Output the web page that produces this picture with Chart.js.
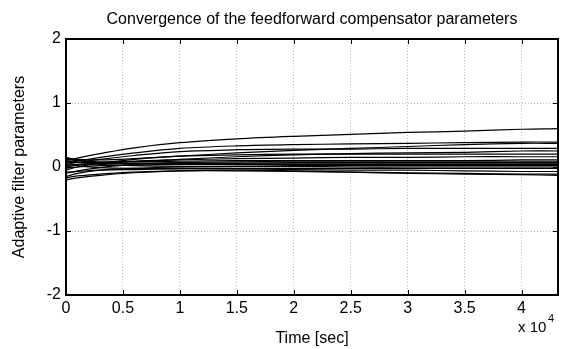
<!DOCTYPE html>
<html>
<head>
<meta charset="utf-8">
<script src="https://cdn.jsdelivr.net/npm/chart.js@4"></script>
<style>
  html, body { margin: 0; padding: 0; background: #fff; }
</style>
</head>
<body>
<canvas id="convChart" width="565" height="349"></canvas>
<script>
const times = [0, 1000, 3000, 6000, 10000, 15000, 20000, 25000, 30000, 35000, 40000, 43200];

// one array per adaptive filter parameter
const p1  = [0.10, 0.14, 0.21, 0.30, 0.38, 0.44, 0.48, 0.51, 0.54, 0.56, 0.59, 0.60];
const p2  = [0.06, 0.09, 0.15, 0.22, 0.29, 0.33, 0.35, 0.36, 0.37, 0.38, 0.39, 0.39];
const p3  = [0.14, 0.12, 0.11, 0.13, 0.17, 0.22, 0.26, 0.29, 0.32, 0.35, 0.37, 0.37];
const p4  = [0.04, 0.07, 0.12, 0.18, 0.24, 0.27, 0.28, 0.28, 0.29, 0.29, 0.29, 0.29];
const p5  = [0.12, 0.10, 0.08, 0.09, 0.12, 0.16, 0.19, 0.21, 0.22, 0.23, 0.25, 0.25];
const p6  = [-0.05, 0.00, 0.06, 0.12, 0.17, 0.19, 0.20, 0.20, 0.20, 0.20, 0.20, 0.20];
const p7  = [0.08, 0.07, 0.07, 0.09, 0.11, 0.13, 0.14, 0.15, 0.15, 0.16, 0.16, 0.16];
const p8  = [-0.10, -0.06, -0.01, 0.04, 0.07, 0.08, 0.09, 0.09, 0.09, 0.09, 0.09, 0.09];
const p9  = [0.15, 0.11, 0.07, 0.05, 0.05, 0.06, 0.07, 0.07, 0.07, 0.07, 0.07, 0.07];
const p10 = [0.02, 0.04, 0.05, 0.06, 0.06, 0.05, 0.05, 0.05, 0.05, 0.05, 0.05, 0.05];
const p11 = [-0.02, 0.00, 0.02, 0.03, 0.04, 0.04, 0.04, 0.04, 0.04, 0.04, 0.04, 0.04];
const p12 = [0.10, 0.07, 0.04, 0.02, 0.01, 0.01, 0.02, 0.02, 0.02, 0.02, 0.02, 0.02];
const p13 = [-0.15, -0.10, -0.05, -0.02, 0.00, 0.01, 0.01, 0.00, 0.00, 0.00, 0.00, 0.00];
const p14 = [0.05, 0.02, -0.01, -0.02, -0.02, -0.02, -0.02, -0.02, -0.02, -0.02, -0.02, -0.02];
const p15 = [-0.08, -0.07, -0.05, -0.04, -0.03, -0.03, -0.04, -0.05, -0.05, -0.06, -0.07, -0.07];
const p16 = [-0.17, -0.14, -0.11, -0.08, -0.06, -0.06, -0.07, -0.08, -0.09, -0.10, -0.11, -0.11];
const p17 = [-0.20, -0.17, -0.13, -0.09, -0.06, -0.05, -0.06, -0.08, -0.10, -0.11, -0.12, -0.13];
const p18 = [0.00, 0.03, 0.06, 0.08, 0.09, 0.10, 0.10, 0.10, 0.10, 0.10, 0.11, 0.11];
const params = [p1, p2, p3, p4, p5, p6, p7, p8, p9, p10, p11, p12, p13, p14, p15, p16, p17, p18];

const xTicks = [0, 5000, 10000, 15000, 20000, 25000, 30000, 35000, 40000];
const xTickLabels = ['0', '0.5', '1', '1.5', '2', '2.5', '3', '3.5', '4'];
const yTicks = [-2, -1, 0, 1, 2];

const FONT = 'Liberation Sans, Arial, sans-serif';

// matlab style box, inward ticks, title and exponent label
const matlabBox = {
    id: 'matlabBox',
    afterDraw(chart) {
        const { ctx, chartArea: a, scales } = chart;
        const L = Math.round(a.left), R = Math.round(a.right);
        const T = Math.round(a.top), B = Math.round(a.bottom);
        ctx.save();
        ctx.strokeStyle = '#000';
        ctx.lineWidth = 1;
        ctx.beginPath();
        xTicks.forEach(v => {
            const x = Math.round(scales.x.getPixelForValue(v)) + 0.5;
            ctx.moveTo(x, B); ctx.lineTo(x, B - 5);
            ctx.moveTo(x, T); ctx.lineTo(x, T + 5);
        });
        yTicks.forEach(v => {
            const y = Math.round(scales.y.getPixelForValue(v)) + 0.5;
            ctx.moveTo(L, y); ctx.lineTo(L + 5, y);
            ctx.moveTo(R, y); ctx.lineTo(R - 5, y);
        });
        ctx.stroke();
        ctx.lineWidth = 2;
        ctx.strokeRect(L, T, R - L, B - T);

        ctx.fillStyle = '#000';
        ctx.font = '16px ' + FONT;
        ctx.textAlign = 'center';
        ctx.textBaseline = 'middle';
        ctx.fillText('Convergence of the feedforward compensator parameters', (a.left + a.right) / 2, 20);

        ctx.font = '15px ' + FONT;
        ctx.textAlign = 'left';
        ctx.fillText('x 10', 518, 328);
        ctx.font = '11px ' + FONT;
        ctx.fillText('4', 548, 319);
        ctx.restore();
    }
};

new Chart(document.getElementById('convChart'), {
    type: 'line',
    data: {
        datasets: params.map((vals, i) => ({
            label: 'p' + (i + 1),
            data: vals.map((v, k) => ({ x: times[k], y: v })),
            borderColor: '#000',
            borderWidth: 1.2,
            pointRadius: 0,
            tension: 0.35,
            fill: false
        }))
    },
    options: {
        responsive: false,
        animation: false,
        devicePixelRatio: 1,
        layout: { padding: { top: 39, right: 7, left: 0, bottom: 0 } },
        plugins: { legend: { display: false }, tooltip: { enabled: false } },
        scales: {
            x: {
                type: 'linear',
                min: 0,
                max: 43200,
                afterFit: s => { s.height = 54; },
                afterBuildTicks: s => { s.ticks = xTicks.map(v => ({ value: v })); },
                ticks: {
                    color: '#000',
                    padding: 4,
                    maxRotation: 0,
                    autoSkip: false,
                    font: { family: FONT, size: 16 },
                    callback: (v) => xTickLabels[xTicks.indexOf(v)]
                },
                grid: { color: '#bdbdbd', drawTicks: false },
                border: { display: false, dash: [1, 2] },
                title: {
                    display: true,
                    text: 'Time [sec]',
                    color: '#000',
                    font: { family: FONT, size: 16 },
                    padding: { top: 0, bottom: 1 }
                }
            },
            y: {
                min: -2,
                max: 2,
                afterFit: s => { s.width = 66; },
                afterBuildTicks: s => { s.ticks = yTicks.map(v => ({ value: v })); },
                ticks: {
                    color: '#000',
                    padding: 5,
                    font: { family: FONT, size: 16 },
                    callback: v => String(v)
                },
                grid: { color: '#bdbdbd', drawTicks: false },
                border: { display: false, dash: [1, 2] },
                title: {
                    display: true,
                    text: 'Adaptive filter parameters',
                    color: '#000',
                    font: { family: FONT, size: 16 },
                    padding: { top: 10, bottom: 0 }
                }
            }
        }
    },
    plugins: [matlabBox]
});
</script>
</body>
</html>
